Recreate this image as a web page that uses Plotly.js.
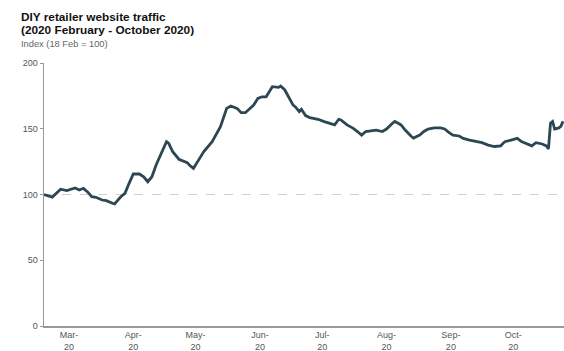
<!DOCTYPE html>
<html>
<head>
<meta charset="utf-8">
<script src="https://cdn.plot.ly/plotly-3.0.1.min.js"></script>
<style>html,body{margin:0;padding:0;background:#fff;}#chart{width:564px;height:351px;}</style>
</head>
<body>
<div id="chart"></div>
<script>
const dates = [
"2020-02-18","2020-02-22","2020-02-26","2020-02-29","2020-03-04","2020-03-06","2020-03-08","2020-03-10",
"2020-03-12","2020-03-14","2020-03-17","2020-03-19","2020-03-22","2020-03-23","2020-03-26","2020-03-28",
"2020-03-30","2020-04-01","2020-04-04","2020-04-06","2020-04-08","2020-04-10","2020-04-12","2020-04-15",
"2020-04-17","2020-04-18","2020-04-20","2020-04-23","2020-04-27","2020-04-28","2020-04-30","2020-05-02",
"2020-05-05","2020-05-09","2020-05-13","2020-05-16","2020-05-18","2020-05-21","2020-05-23","2020-05-25",
"2020-05-27","2020-05-29","2020-05-31","2020-06-02","2020-06-04","2020-06-06","2020-06-07","2020-06-10",
"2020-06-11","2020-06-13","2020-06-15","2020-06-17","2020-06-18","2020-06-20","2020-06-21","2020-06-23",
"2020-06-25","2020-06-29","2020-07-02","2020-07-05","2020-07-07","2020-07-09","2020-07-10","2020-07-13",
"2020-07-16","2020-07-18","2020-07-20","2020-07-22","2020-07-25","2020-07-27","2020-07-30","2020-08-01",
"2020-08-04","2020-08-05","2020-08-08","2020-08-10","2020-08-13","2020-08-14","2020-08-17","2020-08-19",
"2020-08-21","2020-08-24","2020-08-27","2020-08-29","2020-08-31","2020-09-02","2020-09-05","2020-09-07",
"2020-09-10","2020-09-13","2020-09-16","2020-09-19","2020-09-22","2020-09-25","2020-09-27","2020-09-30",
"2020-10-03","2020-10-05","2020-10-08","2020-10-10","2020-10-12","2020-10-15","2020-10-17","2020-10-18",
"2020-10-19","2020-10-20","2020-10-21","2020-10-23","2020-10-24","2020-10-25"
];
const traffic = [
100,98,104,103,105,103.4,104.7,102,
98.3,97.9,95.8,95.3,93.3,92.8,98.3,100.9,
108.5,115.6,115.6,113.5,109.7,113.5,122.4,133.8,
140.2,139,132.6,126.8,124.2,122.4,119.9,125,
132.6,140.2,151.6,165.5,167.3,165.5,162.2,162.2,
165.5,168,173,174.3,174.3,179.5,182,181.5,
182.5,179.5,173.3,168,166.8,163,164.8,160,
158.5,157.2,155.4,154.1,152.9,157.2,156.7,152.9,
150.3,147.9,145.2,147.9,148.7,149,147.9,149.8,
154.4,155.6,152.9,149,144.1,142.9,145.2,147.9,
149.8,150.6,150.6,149.8,147.2,145.2,144.5,142.7,
141.4,140.2,139.4,137.6,136.5,137,140.2,141.4,
142.7,140.2,138.4,137,139.4,138.4,137,134.6,
154.3,155.6,149.8,150.6,151.8,155.6
];
const tickDates = ["2020-03-01","2020-04-01","2020-05-01","2020-06-01","2020-07-01","2020-08-01","2020-09-01","2020-10-01"];
const tickLabels = ["Mar-<br>20","Apr-<br>20","May-<br>20","Jun-<br>20","Jul-<br>20","Aug-<br>20","Sep-<br>20","Oct-<br>20"];
const yTicks = [0,50,100,150,200];
const baseline = 100;
const titleLines = ["DIY retailer website traffic", "(2020 February - October 2020)"];
const subtitle = "Index (18 Feb = 100)";

const FONT = 'Liberation Sans, Arial, sans-serif';

const trace = {
  x: dates, y: traffic, type: 'scatter', mode: 'lines',
  line: {color: '#2c4753', width: 2.8},
  hoverinfo: 'skip'
};

const layout = {
  width: 564, height: 351,
  margin: {l: 44, r: 0, t: 63, b: 25},
  paper_bgcolor: '#fff', plot_bgcolor: '#fff',
  showlegend: false,
  font: {family: FONT, color: '#555', size: 9},
  annotations: [
    {text: '<b>' + titleLines[0] + '</b>', xref: 'paper', yref: 'paper',
     x: -0.048, xanchor: 'left', y: 1.175, yanchor: 'middle', showarrow: false,
     font: {family: FONT, size: 11.8, color: '#111'}},
    {text: '<b>' + titleLines[1] + '</b>', xref: 'paper', yref: 'paper',
     x: -0.048, xanchor: 'left', y: 1.124, yanchor: 'middle', showarrow: false,
     font: {family: FONT, size: 11.8, color: '#111'}},
    {text: subtitle, xref: 'paper', yref: 'paper',
     x: -0.048, xanchor: 'left', y: 1.072, yanchor: 'middle', showarrow: false,
     font: {family: FONT, size: 9.3, color: '#666'}}
  ],
  xaxis: {
    type: 'date', range: ['2020-02-18', '2020-10-25 12:00'],
    tickvals: tickDates, ticktext: tickLabels, tickangle: 0,
    showgrid: false, zeroline: false,
    showline: true, linecolor: '#999', linewidth: 1.5,
    ticks: '', tickfont: {family: FONT, size: 9, color: '#555'}, fixedrange: true
  },
  yaxis: {
    range: [0, 200], tickvals: yTicks, ticktext: yTicks.map(String),
    showgrid: false, zeroline: false,
    showline: true, linecolor: '#999', linewidth: 1.5,
    ticks: 'outside', ticklen: 3, tickcolor: '#999', tickwidth: 1,
    tickfont: {family: FONT, size: 9, color: '#555'}, fixedrange: true
  },
  shapes: [{
    type: 'line', xref: 'paper', yref: 'y', x0: 0, x1: 1, y0: baseline, y1: baseline,
    line: {color: '#d0d0d0', width: 1, dash: 'dash'}, layer: 'below'
  }]
};

Plotly.newPlot('chart', [trace], layout, {displayModeBar: false, staticPlot: true});
</script>
</body>
</html>
